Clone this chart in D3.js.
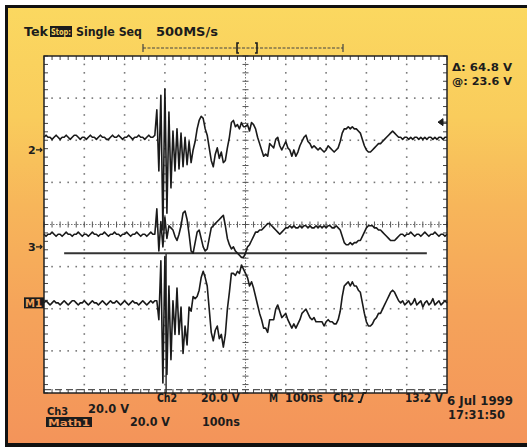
<!DOCTYPE html>
<html lang="en">
<head>
<meta charset="UTF-8">
<title>Tek Single Seq capture</title>
<script src="https://d3js.org/d3.v7.min.js"></script>
<style>
  body { margin: 0; background: #fff; }
  svg { display: block; }
  text { font-family: "DejaVu Sans", sans-serif; font-weight: bold; fill: #1c1c1c; }
</style>
</head>
<body>
<svg id="scope" width="527" height="447"></svg>
<script>
// record: 201 samples, 5 ns apart (M 100ns/div, 10 div)
const SAMPLE_NS = 5;
const VOLTS_PER_DIV = 20;

// volts
const ch2 = [
  6,7,6,6,5,6,7,6,5,6, 6,7,6,5,6,7,7,6,5,6, 6,5,6,7,6,6,5,6,7,6, 6,5,5,6,7,6,6,7,6,5,
  6,6,7,6,5,6,6,7,6,6, 5,6,7,6,6,7,19,-10,26,-38,
  29,-30,18,-18,9,-10,10,-9,8,-8, 6,-7,4,-6,0,4,10,14,16,15,
  10,7,1,-5,-8,-2,1,-4,-1,-6, -5,1,6,13,14,11,12,10,13,11,
  11,12,9,13,12,10,6,3,0,-3, -2,-3,3,2,1,5,6,2,0,2,
  4,1,0,-3,0,-3,-1,2,4,6, 7,4,3,1,2,1,0,1,0,-1,
  0,2,1,0,-1,0,1,4,8,10, 10,11,10,11,10,10,9,8,5,2,
  0,-1,-1,0,1,2,3,3,4,5, 6,7,8,9,8,7,6,6,5,6,
  6,5,6,5,6,6,5,6,5,6, 5,6,6,5,6,5,6,6,5,6, 6
];
const ch3 = [
  6,5,6,6,7,6,5,6,6,5, 6,7,6,6,5,6,6,7,6,5, 6,6,5,6,7,6,6,5,6,6, 7,6,5,6,6,7,6,6,5,6,
  6,7,6,5,6,6,7,6,5,6, 6,5,6,7,6,6,18,-2,12,0,
  14,4,10,9,8,5,3,6,10,16, 17,13,6,-2,-3,2,7,8,4,0,
  -2,-1,4,9,10,11,12,13,14,15, 10,4,1,-1,0,-2,-3,-4,-5,-5,
  -3,0,1,3,5,7,7,8,8,9, 10,11,11,10,9,8,7,6,7,8,
  9,9,10,9,10,9,9,10,9,10, 10,9,10,9,9,10,9,10,9,10,
  9,10,10,9,9,10,9,8,5,2, 1,1,2,1,2,2,3,3,5,7,
  9,10,10,10,9,9,8,8,7,6, 5,4,3,3,3,4,5,6,6,5,
  6,6,7,6,5,6,6,5,6,7, 6,5,6,6,7,6,5,6,6,5, 6
];
const math1 = [
  0,1,0,-1,0,1,0,0,-1,0, 1,0,-1,0,1,1,0,-1,0,0, 1,0,-1,0,1,0,0,-1,0,1, 0,-1,0,1,0,0,1,0,-1,0,
  1,0,-1,0,1,0,0,-1,0,1, 0,-1,0,1,0,1,1,-8,20,-38,
  22,-34,8,-27,1,-15,7,-15,-2,-24, -11,-20,-2,-4,3,2,3,6,12,15,
  12,8,-3,-14,-18,-13,-11,-17,-15,-21, -15,-3,5,14,14,13,15,14,18,16,
  14,12,8,10,7,3,-1,-5,-8,-12, -12,-14,-8,-8,-8,-3,-1,-4,-7,-6,
  -5,-8,-10,-12,-10,-12,-10,-8,-5,-4, -3,-5,-7,-8,-7,-9,-9,-9,-9,-11,
  -9,-8,-9,-9,-10,-10,-8,-4,3,8, 9,10,8,10,8,8,6,5,0,-5,
  -9,-11,-11,-10,-8,-7,-5,-5,-3,-1, 1,3,5,6,5,3,1,0,1,-1,
  0,1,-1,0,2,-1,0,1,-2,0, 1,-1,0,2,-1,0,1,-1,0,1, 0
];

// bar cursors on Math1 (volts) and trigger level on Ch2
const cursorVolts = [23.6, -41.2];
const triggerVolts = 13.2;

// screen settings (position of each ground marker, in divisions from centre)
const traces = [
  { values: ch2, offset: 1.77, marker: "2" },
  { values: ch3, offset: -0.53, marker: "3" },
  { values: math1, offset: -1.86, marker: "M1" }
];

const svg = d3.select("#scope");
const x = d3.scaleLinear().domain([0, 1000]).range([44, 447]);
const y = d3.scaleLinear().domain([-4, 4]).range([393, 56]);

// background
const grad = svg.append("defs").append("linearGradient")
  .attr("id", "bg").attr("x1", 0).attr("y1", 0).attr("x2", 0).attr("y2", 1);
[[0, "#fbd860"], [0.25, "#f9cc5c"], [0.45, "#f7b65a"], [0.7, "#f5a35a"], [1, "#f4945a"]]
  .forEach(s => grad.append("stop").attr("offset", s[0]).attr("stop-color", s[1]));
svg.append("rect").attr("x", 5).attr("y", 5).attr("width", 522).attr("height", 442).attr("fill", "#111");
svg.append("rect").attr("x", 8).attr("y", 8).attr("width", 519).attr("height", 435).attr("fill", "url(#bg)");

// graticule
svg.append("rect").attr("x", x(0)).attr("y", y(4)).attr("width", x(1000) - x(0)).attr("height", y(-4) - y(4))
  .attr("fill", "#fff");

const g = svg.append("g");
const minorT = d3.range(0, 1000.1, 20);
const minorV = d3.range(-4, 4.01, 0.2);
const majorT = d3.range(100, 1000, 100).filter(t => t !== 500);
const majorV = [-3, -2, -1, 1, 2, 3];

majorT.forEach(t => {
  g.selectAll(null).data(minorV.slice(1, -1)).enter().append("rect")
    .attr("x", x(t) - 0.8).attr("y", d => y(d) - 0.8).attr("width", 1.6).attr("height", 1.6).attr("fill", "#777");
});
majorV.forEach(v => {
  g.selectAll(null).data(minorT.slice(1, -1)).enter().append("rect")
    .attr("x", d => x(d) - 0.8).attr("y", y(v) - 0.8).attr("width", 1.6).attr("height", 1.6).attr("fill", "#777");
});

// centre lines with ticks
g.append("line").attr("x1", x(500)).attr("x2", x(500)).attr("y1", y(4)).attr("y2", y(-4))
  .attr("stroke", "#777").attr("stroke-width", 1).attr("stroke-dasharray", "1.5,1.5");
g.append("line").attr("x1", x(0)).attr("x2", x(1000)).attr("y1", y(0)).attr("y2", y(0))
  .attr("stroke", "#777").attr("stroke-width", 1).attr("stroke-dasharray", "1.5,1.5");
g.selectAll(null).data(minorV).enter().append("line")
  .attr("x1", x(500) - 3).attr("x2", x(500) + 3).attr("y1", d => y(d)).attr("y2", d => y(d))
  .attr("stroke", "#555").attr("stroke-width", 1);
g.selectAll(null).data(minorT).enter().append("line")
  .attr("x1", d => x(d)).attr("x2", d => x(d)).attr("y1", y(0) - 3).attr("y2", y(0) + 3)
  .attr("stroke", "#555").attr("stroke-width", 1);

// border ticks
const tick = (x1, y1, x2, y2) => g.append("line").attr("x1", x1).attr("y1", y1).attr("x2", x2).attr("y2", y2)
  .attr("stroke", "#444").attr("stroke-width", 1);
minorT.forEach(t => { tick(x(t), y(4), x(t), y(4) + 4); tick(x(t), y(-4), x(t), y(-4) - 4); });
minorV.forEach(v => { tick(x(0), y(v), x(0) + 4, y(v)); tick(x(1000), y(v), x(1000) - 4, y(v)); });

// cursors
const cy0 = y(-1.86 + cursorVolts[0] / VOLTS_PER_DIV);
const cy1 = y(-1.86 + cursorVolts[1] / VOLTS_PER_DIV);
svg.append("line").attr("x1", x(50)).attr("x2", x(950)).attr("y1", cy0).attr("y2", cy0)
  .attr("stroke", "#333").attr("stroke-width", 2);
svg.append("line").attr("x1", x(0)).attr("x2", x(1000)).attr("y1", cy1).attr("y2", cy1)
  .attr("stroke", "#555").attr("stroke-width", 1.2).attr("stroke-dasharray", "7,4");
svg.append("line").attr("x1", x(303)).attr("x2", x(303)).attr("y1", cy0).attr("y2", y(-4))
  .attr("stroke", "#333").attr("stroke-width", 1.5);

// traces
traces.forEach(tr => {
  const line = d3.line()
    .x((d, i) => x(i * SAMPLE_NS))
    .y(d => y(tr.offset + d / VOLTS_PER_DIV));
  svg.append("path").datum(tr.values).attr("d", line)
    .attr("fill", "none").attr("stroke", "#1a1a1a").attr("stroke-width", 1.6).attr("stroke-linejoin", "round");
});

svg.append("rect").attr("x", x(0)).attr("y", y(4)).attr("width", x(1000) - x(0)).attr("height", y(-4) - y(4))
  .attr("fill", "none").attr("stroke", "#222").attr("stroke-width", 1.5);

// ground markers
traces.forEach(tr => {
  const my = y(tr.offset);
  if (tr.marker === "M1") {
    svg.append("rect").attr("x", 24).attr("y", my - 5.5).attr("width", 20).attr("height", 11).attr("fill", "#1c1c1c");
    svg.append("text").attr("x", 25).attr("y", my + 4).attr("font-size", 10).style("fill", "#f4a45a")
      .attr("textLength", 17).attr("lengthAdjust", "spacingAndGlyphs").text("M1");
  } else {
    svg.append("text").attr("x", 28).attr("y", my + 4.5).attr("font-size", 11).text(tr.marker);
    svg.append("path").attr("d", `M36,${my}h6m-2,-2l2,2l-2,2`).attr("fill", "none")
      .attr("stroke", "#1c1c1c").attr("stroke-width", 1.2);
  }
});

// trigger level arrow
const ty = y(1.77 + triggerVolts / VOLTS_PER_DIV);
svg.append("path").attr("d", `M438,${ty}l5,-3.5v7z M443,${ty}h4`).attr("fill", "#1c1c1c")
  .attr("stroke", "#1c1c1c").attr("stroke-width", 1);

// record bar
const bar = svg.append("g").attr("stroke", "#444").attr("fill", "none");
bar.append("line").attr("x1", 143).attr("x2", 343).attr("y1", 48).attr("y2", 48)
  .attr("stroke-width", 1).attr("stroke-dasharray", "3,1.5");
bar.append("line").attr("x1", 143).attr("x2", 143).attr("y1", 44).attr("y2", 52).attr("stroke-width", 1.2);
bar.append("line").attr("x1", 343).attr("x2", 343).attr("y1", 44).attr("y2", 52).attr("stroke-width", 1.2);
bar.append("path").attr("d", "M239,43h-2v10h2").attr("stroke", "#1c1c1c").attr("stroke-width", 1.6);
bar.append("path").attr("d", "M255,43h2v10h-2").attr("stroke", "#1c1c1c").attr("stroke-width", 1.6);

// labels
function label(tx, ty, str, w, size) {
  const t = svg.append("text").attr("x", tx).attr("y", ty).attr("font-size", size || 12).text(str);
  if (w) t.attr("textLength", w).attr("lengthAdjust", "spacingAndGlyphs");
  return t;
}
label(24, 36, "Tek", 24);
svg.append("rect").attr("x", 50).attr("y", 26).attr("width", 22).attr("height", 11).attr("fill", "#1c1c1c");
label(51, 35, "Stop:", 20, 8).style("fill", "#f9d45c");
label(76, 36, "Single Seq", 66);
label(156, 36, "500MS/s", 62);

label(452, 71, "\u0394: 64.8 V", 60, 11);
label(452, 85, "@: 23.6 V", 60, 11);

label(157, 402, "Ch2", 20);
label(201, 402, "20.0 V", 39);
label(269, 402, "M", 9);
label(285, 402, "100ns", 38);
label(333, 402, "Ch2", 21);
svg.append("path").attr("d", "M358,402h2.5l3,-9h2.5").attr("fill", "none").attr("stroke", "#1c1c1c").attr("stroke-width", 1.8);
label(405, 402, "13.2 V", 38);
label(447, 405, "6 Jul 1999", 66);
label(448, 419, "17:31:50", 57);

label(47, 414.5, "Ch3", 21, 11);
label(88, 413, "20.0 V", 41, 11.5);
svg.append("rect").attr("x", 46).attr("y", 417).attr("width", 46).attr("height", 10).attr("fill", "#1c1c1c");
label(48, 425.5, "Math1", 42, 9.5).style("fill", "#f39a5a");
label(130, 426, "20.0 V", 40);
label(202, 426, "100ns", 38);
</script>
</body>
</html>
